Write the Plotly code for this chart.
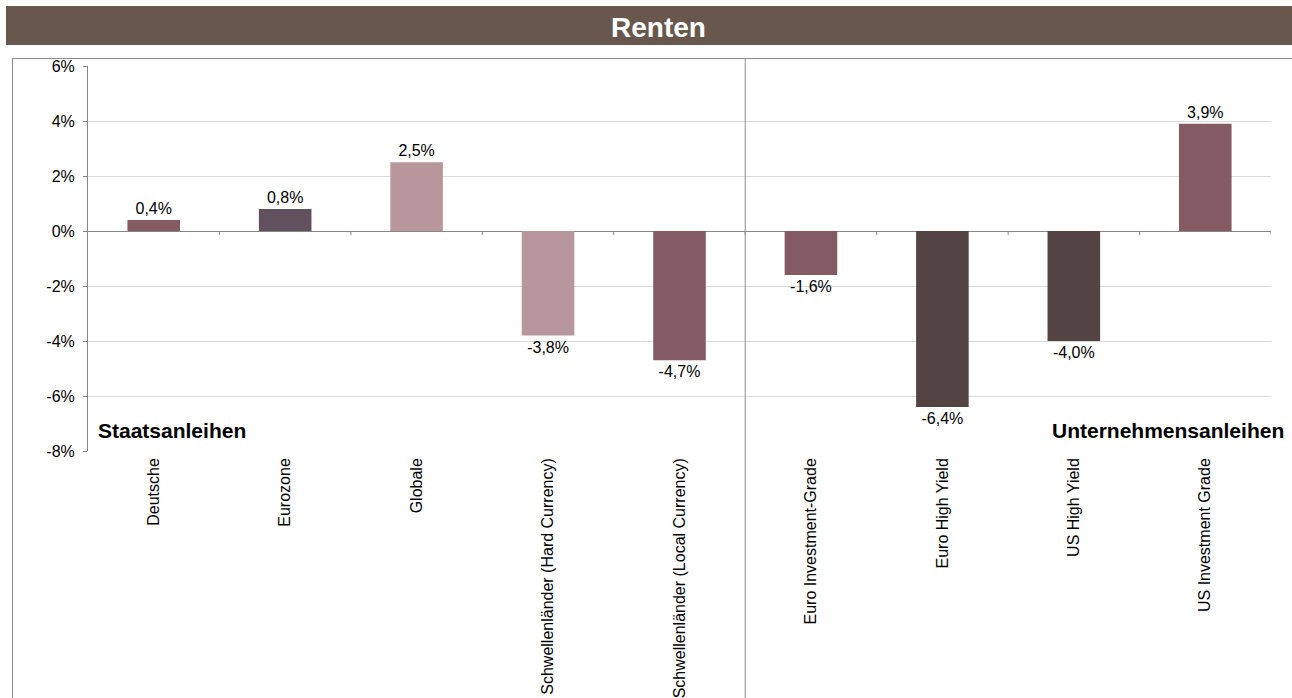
import plotly.graph_objects as go

# Daten (in %)
categories = ["Deutsche", "Eurozone", "Globale",
              "Schwellenländer (Hard Currency)", "Schwellenländer (Local Currency)",
              "Euro Investment-Grade", "Euro High Yield", "US High Yield", "US Investment Grade"]
values = [0.4, 0.8, 2.5, -3.8, -4.7, -1.6, -6.4, -4.0, 3.9]
bar_colors = ["#845B63", "#63505F", "#B8979C", "#B8979C", "#845B63",
              "#845B63", "#544343", "#544343", "#845B63"]
y_ticks = [-8, -6, -4, -2, 0, 2, 4, 6]
y_tick_labels = ["-8%", "-6%", "-4%", "-2%", "0%", "2%", "4%", "6%"]
group_labels = ["Staatsanleihen", "Unternehmensanleihen"]
title_text = "Renten"

# Seite / Ränder in Pixel
W, H = 1292, 698
ML, MR, MT, MB = 88, 21, 66, 247
PW = W - ML - MR
PH = H - MT - MB


def px_x(x):
    return (x - ML) / PW


def px_y(y):
    return (H - MB - y) / PH


FONT = "Liberation Sans, Arial, sans-serif"
GREY = "#868686"

fig = go.Figure(go.Bar(
    x=categories, y=values,
    width=0.4,
    marker=dict(color=bar_colors, line=dict(width=0)),
    texttemplate="%{y:.1f}%",
    textposition="outside",
    textfont=dict(size=16, color="#000000", family=FONT),
    cliponaxis=False,
))

shapes = []
# Titelbalken
shapes.append(dict(type="rect", xref="paper", yref="paper",
                   x0=px_x(6), x1=px_x(1292), y0=px_y(45), y1=px_y(6),
                   fillcolor="#67574D", line=dict(width=0)))
# Rahmen links / oben
shapes.append(dict(type="line", xref="paper", yref="paper",
                   x0=px_x(12.5), x1=px_x(12.5), y0=px_y(698), y1=px_y(58),
                   line=dict(color="#8c8c8c", width=1)))
shapes.append(dict(type="line", xref="paper", yref="paper",
                   x0=px_x(12), x1=px_x(1292), y0=px_y(58.5), y1=px_y(58.5),
                   line=dict(color="#8c8c8c", width=1)))
# Trennlinie Staats- / Unternehmensanleihen
shapes.append(dict(type="line", xref="x", yref="paper",
                   x0=4.5, x1=4.5, y0=px_y(698), y1=px_y(58),
                   line=dict(color="#8c8c8c", width=1)))
# Teilstriche an der Nulllinie
for k in range(len(categories)):
    shapes.append(dict(type="line", xref="x", yref="y", ysizemode="pixel", yanchor=0,
                       x0=k + 0.5, x1=k + 0.5, y0=0, y1=-4,
                       line=dict(color=GREY, width=1)))

annotations = [
    dict(x=px_x(658), y=px_y(27), xref="paper", yref="paper", showarrow=False,
         text="<b>" + title_text + "</b>", xanchor="center", yanchor="middle",
         font=dict(family=FONT, size=28, color="#ffffff")),
    dict(x=px_x(96), y=px_y(430), xref="paper", yref="paper", showarrow=False,
         text="<b>" + group_labels[0] + "</b>", xanchor="left", yanchor="middle",
         font=dict(family=FONT, size=21, color="#000000")),
    dict(x=px_x(1286), y=px_y(430), xref="paper", yref="paper", showarrow=False,
         text="<b>" + group_labels[1] + "</b>", xanchor="right", yanchor="middle",
         font=dict(family=FONT, size=21, color="#000000")),
]

fig.update_layout(
    width=W, height=H,
    margin=dict(l=ML, r=MR, t=MT, b=MB, autoexpand=False),
    plot_bgcolor="#ffffff", paper_bgcolor="#ffffff",
    separators=",.",
    showlegend=False,
    shapes=shapes,
    annotations=annotations,
    font=dict(family=FONT, color="#000000"),
    xaxis=dict(type="category", range=[-0.5, 8.5], tickangle=-90,
               showline=False, showgrid=False, ticks="", ticklabelstandoff=3,
               tickfont=dict(family=FONT, size=16, color="#000000")),
    yaxis=dict(range=[-8, 6], tickvals=y_ticks, ticktext=y_tick_labels,
               showline=True, linecolor=GREY, linewidth=1,
               ticks="outside", ticklen=4, tickcolor=GREY, ticklabelstandoff=5,
               showgrid=True, gridcolor="#d9d9d9", gridwidth=1,
               zeroline=True, zerolinecolor=GREY, zerolinewidth=1,
               tickfont=dict(family=FONT, size=16, color="#000000")),
)

fig.write_html("out.html", config=dict(displayModeBar=False))

# Standard-Rand des <body> entfernen, damit die Grafik bei 0/0 beginnt
with open("out.html", encoding="utf-8") as f:
    html = f.read()
html = html.replace("<body>", '<body style="margin:0;overflow:hidden">', 1)
with open("out.html", "w", encoding="utf-8") as f:
    f.write(html)
